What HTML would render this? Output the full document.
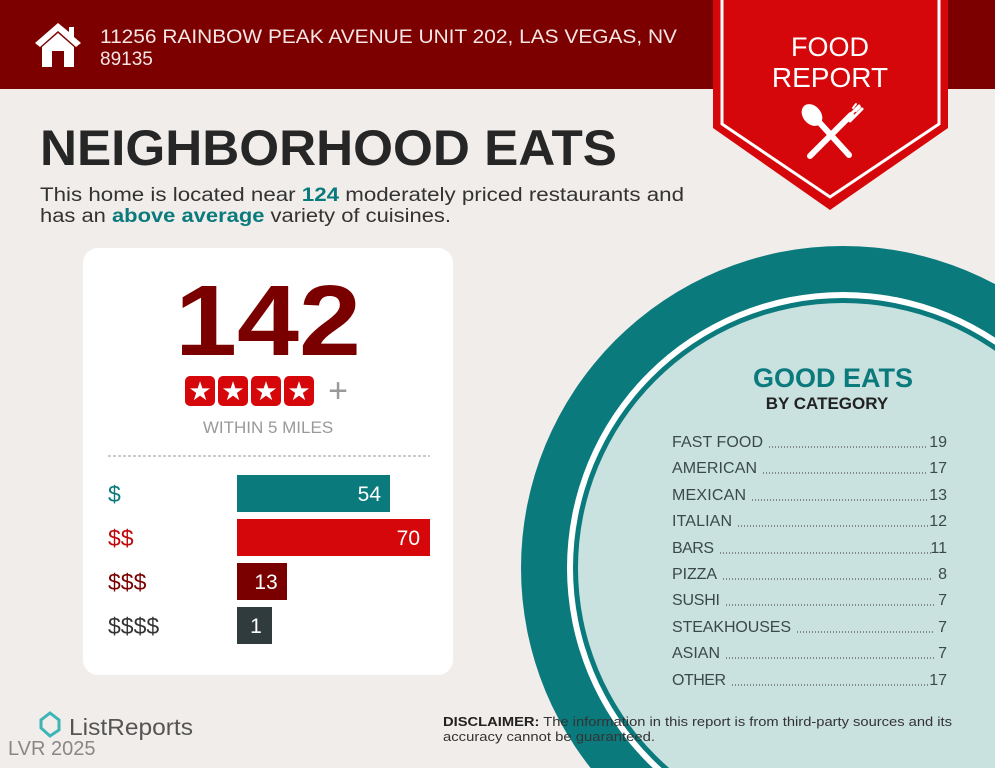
<!DOCTYPE html>
<html><head><meta charset="utf-8"><style>
html,body{margin:0;padding:0;background:#f1edea;width:995px;height:768px;overflow:hidden;}
svg{display:block;overflow:hidden;font-family:"Liberation Sans",sans-serif;}
</style></head><body>
<svg width="995" height="768" viewBox="0 0 995 768" xmlns="http://www.w3.org/2000/svg">
<rect width="995" height="768" fill="#f1edea"/>
<rect width="995" height="89" fill="#7c0000"/>
<path d="M58 23 L35 43 L40 47 L58 31 L76 47 L81 43 L74 37 L74 27 L69 27 L69 32 Z" fill="#fff"/>
<path d="M42 47 L58 33 L74 47 L74 67 L64 67 L64 51 L52 51 L52 67 L42 67 Z" fill="#fff"/>
<text x="100" y="43" font-size="19" fill="#f6e6e6" textLength="577" lengthAdjust="spacingAndGlyphs">11256 RAINBOW PEAK AVENUE UNIT 202, LAS VEGAS, NV</text>
<text x="100" y="65" font-size="19" fill="#f6e6e6">89135</text>
<path d="M713 0 H948 V128 L830 210 L713 128 Z" fill="#d5070b"/>
<path d="M722 0 V124 L830 197 L939 124 V0" fill="none" stroke="#fff" stroke-width="3"/>
<text x="830" y="56" font-size="27" fill="#fff" text-anchor="middle">FOOD</text>
<text x="830" y="87" font-size="28" fill="#fff" text-anchor="middle">REPORT</text>
<g stroke="#fff" stroke-linecap="round" fill="#fff">
<line x1="819" y1="122" x2="849" y2="155" stroke-width="6"/>
<ellipse cx="812" cy="115" rx="9" ry="12" transform="rotate(-40 812 115)" stroke="none"/>
<line x1="851" y1="115" x2="810" y2="156" stroke-width="6"/>
<path d="M847 118 L859 106 M850 121 L862 109" stroke-width="3"/>
<line x1="853" y1="108" x2="856" y2="104" stroke-width="2"/>
<line x1="856" y1="111" x2="860" y2="107" stroke-width="2"/>
</g>
<text x="40" y="165" font-size="50" font-weight="bold" fill="#262626" textLength="577" lengthAdjust="spacingAndGlyphs">NEIGHBORHOOD EATS</text>
<text x="40" y="201" font-size="19" fill="#333" textLength="644" lengthAdjust="spacingAndGlyphs">This home is located near <tspan fill="#0b7a7d" font-weight="bold">124</tspan> moderately priced restaurants and</text>
<text x="40" y="222" font-size="19" fill="#333" textLength="411" lengthAdjust="spacingAndGlyphs">has an <tspan fill="#0b7a7d" font-weight="bold">above average</tspan> variety of cuisines.</text>
<rect x="83" y="248" width="370" height="427" rx="15" fill="#fff"/>
<text x="268" y="355" font-size="100" font-weight="bold" fill="#7a0000" text-anchor="middle" textLength="186" lengthAdjust="spacingAndGlyphs">142</text>
<g fill="#d5070b">
<rect x="185" y="376" width="30" height="30" rx="5"/><rect x="218" y="376" width="30" height="30" rx="5"/>
<rect x="251" y="376" width="30" height="30" rx="5"/><rect x="284" y="376" width="30" height="30" rx="5"/>
</g>
<g fill="#fff" font-size="26" text-anchor="middle">
<text x="200" y="400">★</text><text x="233" y="400">★</text><text x="266" y="400">★</text><text x="299" y="400">★</text>
</g>
<text x="338" y="402" font-size="34" fill="#999" text-anchor="middle">+</text>
<text x="268" y="433" font-size="17" fill="#999" text-anchor="middle">WITHIN 5 MILES</text>
<line x1="108" y1="456" x2="430" y2="456" stroke="#999" stroke-dasharray="3,2" stroke-width="1"/>
<text x="108" y="502" font-size="23" fill="#0b7a7d">$</text>
<text x="108" y="546" font-size="23" fill="#c0070b">$$</text>
<text x="108" y="590" font-size="23" fill="#7a0000">$$$</text>
<text x="108" y="634" font-size="23" fill="#333">$$$$</text>
<rect x="237" y="475" width="153" height="37" fill="#0b7a7d"/>
<rect x="237" y="519" width="193" height="37" fill="#d5070b"/>
<rect x="237" y="563" width="50" height="37" fill="#7a0000"/>
<rect x="237" y="607" width="35" height="37" fill="#2f3b3c"/>
<g fill="#fff" font-size="21">
<text x="381" y="501" text-anchor="end">54</text>
<text x="420" y="545" text-anchor="end">70</text>
<text x="266" y="589" text-anchor="middle">13</text>
<text x="256" y="633" text-anchor="middle">1</text>
</g>
<circle cx="843" cy="568" r="322" fill="#0b7a7d"/>
<circle cx="843" cy="568" r="276" fill="#fff"/>
<circle cx="843" cy="568" r="270" fill="#0b7a7d"/>
<circle cx="843" cy="568" r="265" fill="#c9e1df"/>
<text x="833" y="387" font-size="27" font-weight="bold" fill="#0b7a7d" text-anchor="middle">GOOD EATS</text>
<text x="827" y="409" font-size="17" font-weight="bold" fill="#222" text-anchor="middle">BY CATEGORY</text>
<g font-size="16" fill="#3a4a4a" lengthAdjust="spacingAndGlyphs">
<text x="672" y="447" textLength="91">FAST FOOD</text><text x="947" y="447" text-anchor="end">19</text>
<text x="672" y="473" textLength="85">AMERICAN</text><text x="947" y="473" text-anchor="end">17</text>
<text x="672" y="500" textLength="74">MEXICAN</text><text x="947" y="500" text-anchor="end">13</text>
<text x="672" y="526" textLength="60">ITALIAN</text><text x="947" y="526" text-anchor="end">12</text>
<text x="672" y="553" textLength="42">BARS</text><text x="947" y="553" text-anchor="end">11</text>
<text x="672" y="579" textLength="45">PIZZA</text><text x="947" y="579" text-anchor="end">8</text>
<text x="672" y="605" textLength="48">SUSHI</text><text x="947" y="605" text-anchor="end">7</text>
<text x="672" y="632" textLength="119">STEAKHOUSES</text><text x="947" y="632" text-anchor="end">7</text>
<text x="672" y="658" textLength="48">ASIAN</text><text x="947" y="658" text-anchor="end">7</text>
<text x="672" y="685" textLength="54">OTHER</text><text x="947" y="685" text-anchor="end">17</text>
</g>
<g stroke="#555" stroke-width="1.3" stroke-dasharray="1,2">
<line x1="769" y1="447" x2="928" y2="447"/>
<line x1="763" y1="473" x2="928" y2="473"/>
<line x1="752" y1="500" x2="928" y2="500"/>
<line x1="738" y1="526" x2="928" y2="526"/>
<line x1="720" y1="553" x2="932" y2="553"/>
<line x1="723" y1="579" x2="932" y2="579"/>
<line x1="726" y1="605" x2="935" y2="605"/>
<line x1="797" y1="632" x2="935" y2="632"/>
<line x1="726" y1="658" x2="935" y2="658"/>
<line x1="732" y1="685" x2="928" y2="685"/>
</g>
<text x="443" y="726" font-size="13" fill="#333" textLength="509" lengthAdjust="spacingAndGlyphs"><tspan font-weight="bold" fill="#222">DISCLAIMER:</tspan> The information in this report is from third-party sources and its</text>
<text x="443" y="741" font-size="13" fill="#333" textLength="212" lengthAdjust="spacingAndGlyphs">accuracy cannot be guaranteed.</text>
<path d="M41 728 L41 720 L50 713 L59 720 L59 730 L50 736 Z" fill="none" stroke="#3cb5b5" stroke-width="3"/>
<text x="69" y="735" font-size="23" fill="#555" textLength="124" lengthAdjust="spacingAndGlyphs">ListReports</text>
<text x="8" y="755" font-size="20" fill="#888">LVR 2025</text>
</svg>
</body></html>
